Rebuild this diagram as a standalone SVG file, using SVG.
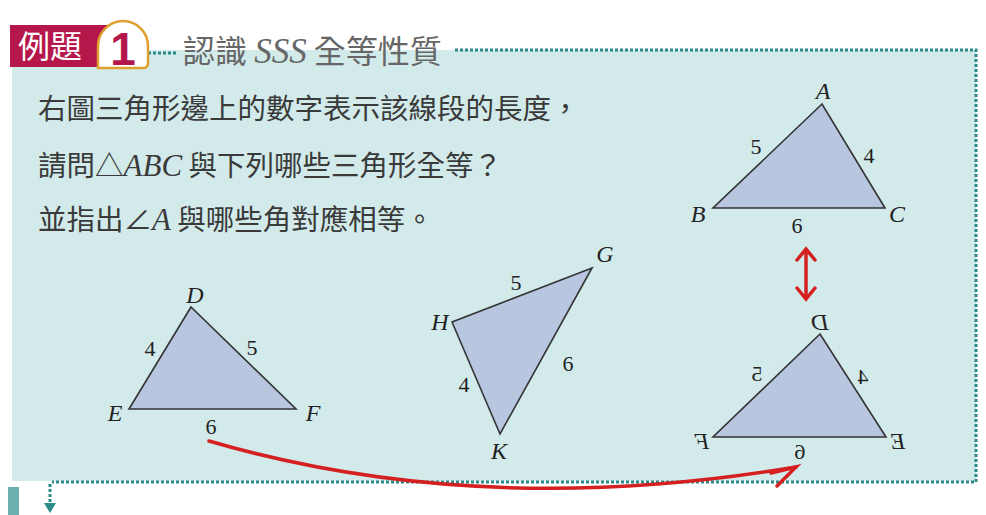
<svg xmlns="http://www.w3.org/2000/svg" width="986" height="515" viewBox="0 0 986 515">
<defs>
<style>
.cjk{font-family:"Noto Sans CJK TC","Noto Sans CJK SC",sans-serif;}
.body{font-size:28.5px;fill:#3a3a3a;}
.it{font-family:"Liberation Serif",serif;font-style:italic;}
.lbl{font-family:"Liberation Serif",serif;font-style:italic;font-size:24px;fill:#222;text-anchor:middle;}
.num{font-family:"Liberation Serif",serif;font-size:22px;fill:#222;text-anchor:middle;}
.tri{fill:#b8c6e0;stroke:#333;stroke-width:1.6;stroke-linejoin:miter;}
.dot{stroke:#2a8a8a;stroke-width:3;stroke-dasharray:3 2;fill:none;}
.red{stroke:#d42020;stroke-width:3.5;fill:none;stroke-linecap:round;}
</style>
</defs>
<rect x="0" y="0" width="986" height="515" fill="#fff"/>
<g id="panel">
<rect x="12" y="50" width="964" height="431" fill="#d3eaea"/>
<rect x="0" y="0" width="455" height="50" fill="#fff"/>
<path class="dot" d="M455,50 H976 V482 H52"/>
<path class="dot" d="M148,53 H176"/>
</g>
<g id="header">
<rect x="10" y="25" width="100" height="42" fill="#b5174b"/>
<path d="M98,68 L144,68 Q148,68 148,62 L148,46 A25,25 0 1 0 98,46 Z" fill="#fff" stroke="#e0a030" stroke-width="2.5"/>
<text x="18" y="58" class="cjk" font-size="32" fill="#fff">例題</text>
<text x="123" y="65" font-family="Liberation Sans,sans-serif" font-weight="bold" font-size="46" fill="#b5174b" text-anchor="middle">1</text>
<text x="183" y="63" class="cjk" font-size="32" fill="#666">認識 <tspan class="it" font-size="35">SSS</tspan> 全等性質</text>
</g>
<g id="question" class="cjk body">
<text x="38" y="119">右圖三角形邊上的數字表示該線段的長度，</text>
<text x="38" y="176">請問△<tspan class="it" font-size="31">ABC</tspan> 與下列哪些三角形全等？</text>
<text x="38" y="230">並指出∠<tspan class="it" font-size="31">A</tspan> 與哪些角對應相等。</text>
</g>
<g id="triABC">
<polygon class="tri" points="822,104 713,208 885,208"/>
<text class="lbl" x="823" y="99">A</text>
<text class="lbl" x="698" y="222">B</text>
<text class="lbl" x="897" y="222">C</text>
<text class="num" x="756" y="154">5</text>
<text class="num" x="869" y="163">4</text>
<text class="num" x="797" y="233">6</text>
</g>
<g id="triDEF">
<polygon class="tri" points="191,307 129,409 296,409"/>
<text class="lbl" x="195" y="303">D</text>
<text class="lbl" x="115" y="421">E</text>
<text class="lbl" x="313" y="421">F</text>
<text class="num" x="150" y="356">4</text>
<text class="num" x="252" y="355">5</text>
<text class="num" x="211" y="434">6</text>
</g>
<g id="triGHK">
<polygon class="tri" points="592,268 452,322 500,434"/>
<text class="lbl" x="605" y="262">G</text>
<text class="lbl" x="440" y="330">H</text>
<text class="lbl" x="499" y="459">K</text>
<text class="num" x="516" y="290">5</text>
<text class="num" x="464" y="392">4</text>
<text class="num" x="568" y="371">6</text>
</g>
<g id="triMirror">
<polygon class="tri" points="820,334 713,437 886,437"/>
<text class="lbl" transform="translate(820,330) scale(-1,1)">D</text>
<text class="lbl" transform="translate(702,449) scale(-1,1)">F</text>
<text class="lbl" transform="translate(898,449) scale(-1,1)">E</text>
<text class="num" transform="translate(757,381) scale(-1,1)">5</text>
<text class="num" transform="translate(863,384) scale(-1,1)">4</text>
<text class="num" transform="translate(800,459) scale(-1,1)">6</text>
</g>
<g id="connectors">
<path class="red" d="M806,250 V298 M797,260 L806,249 L815,260 M797,288 L806,299 L815,288"/>
<path class="red" d="M209,441 Q480,520 796,467"/>
<path class="red" d="M771,473 L796,467 L777,486"/>
</g>
<g id="footer">
<rect x="8" y="487" width="11" height="28" fill="#6cb0b0"/>
<path d="M50,484 V505" stroke="#2a8a8a" stroke-width="3" stroke-dasharray="3 2"/>
<path d="M44,503 L50,513 L56,503 Z" fill="#2a8a8a"/>
</g>
</svg>
